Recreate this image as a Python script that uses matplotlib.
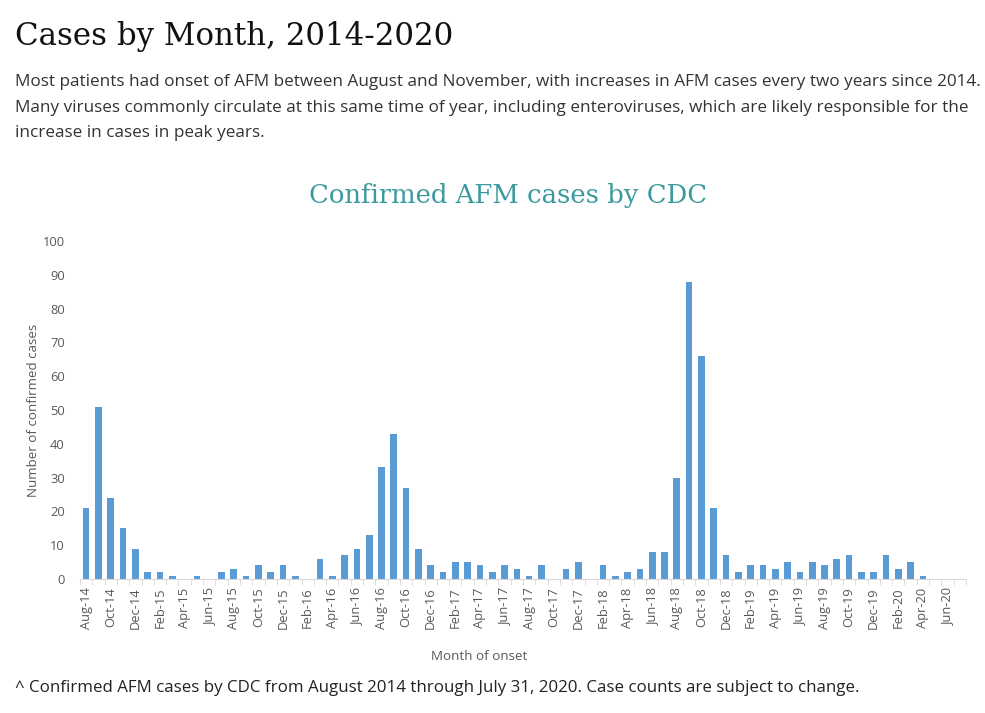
import numpy as np
import matplotlib.pyplot as plt

# Monthly confirmed AFM cases, Aug 2014 - Jul 2020
months = ["Jan", "Feb", "Mar", "Apr", "May", "Jun",
          "Jul", "Aug", "Sep", "Oct", "Nov", "Dec"]
start_month = 7  # Aug
start_year = 14
cases = [21, 51, 24, 15, 9,                      # Aug-Dec 2014
         2, 2, 1, 0, 1, 0, 2, 3, 1, 4, 2, 4,     # 2015
         1, 0, 6, 1, 7, 9, 13, 33, 43, 27, 9, 4, # 2016
         2, 5, 5, 4, 2, 4, 3, 1, 4, 0, 3, 5,     # 2017
         0, 4, 1, 2, 3, 8, 8, 30, 88, 66, 21, 7, # 2018
         2, 4, 4, 3, 5, 2, 5, 4, 6, 7, 2, 2,     # 2019
         7, 3, 5, 1, 0, 0, 0]                    # Jan-Jul 2020

labels = []
for i in range(len(cases)):
    m = (start_month + i) % 12
    y = start_year + (start_month + i) // 12
    labels.append(f"{months[m]}-{y}")

para_lines = [
    "Most patients had onset of AFM between August and November, with increases in AFM cases every two years since 2014.",
    "Many viruses commonly circulate at this same time of year, including enteroviruses, which are likely responsible for the",
    "increase in cases in peak years.",
]

bar_color = "#5b9bd5"
teal = "#3b9a9d"
text_color = "#333333"
tick_color = "#595959"

fig = plt.figure(figsize=(9.85, 7.13), dpi=100)
plt.rcParams['font.family'] = ['Open Sans', 'DejaVu Sans']

# header text
fig.text(15 / 985, 1 - 36 / 713, "Cases by Month, 2014-2020", family="DejaVu Serif",
         fontsize=22.2, color="#111111", va="center", ha="left")
for k, line in enumerate(para_lines):
    fig.text(15 / 985, 1 - (82 + 25.5 * k) / 713, line, fontsize=12.3,
             color=text_color, va="center", ha="left")
fig.text(508 / 985, 1 - 196 / 713, "Confirmed AFM cases by CDC", family="DejaVu Serif",
         fontsize=18.6, color=teal, va="center", ha="center")

ax = fig.add_axes([80 / 985, 1 - 579 / 713, 886 / 985, (579 - 241) / 713])
x = np.arange(len(cases))
ax.bar(x, cases, width=0.54, color=bar_color, zorder=2)

ax.set_xlim(-0.5, len(cases) - 0.5)
ax.set_ylim(0, 100)
ax.set_yticks(np.arange(0, 101, 10))
ax.tick_params(axis="y", length=0, labelsize=9.3, labelcolor=tick_color, pad=11)

ax.set_xticks(x[::2])
ax.set_xticklabels(labels[::2], rotation=90, fontsize=9.3, color=tick_color)
ax.set_xticks(np.arange(-0.5, len(cases), 1), minor=True)
ax.tick_params(axis="x", which="major", length=0, pad=6)
ax.tick_params(axis="x", which="minor", length=4, color="#d9d9d9")

for side in ["top", "right", "left"]:
    ax.spines[side].set_visible(False)
ax.spines["bottom"].set_color("#d9d9d9")

ax.set_ylabel("Number of confirmed cases", fontsize=9.6, color=tick_color)
ax.yaxis.set_label_coords(-40 / 886, 0.5)
ax.set_xlabel("Month of onset", fontsize=9.6, color=tick_color)
ax.xaxis.set_label_coords((479 - 80) / 886, -(657 - 579) / 338)
ax.xaxis.label.set_va("center")

fig.text(15 / 985, 1 - 688 / 713,
         "^ Confirmed AFM cases by CDC from August 2014 through July 31, 2020. Case counts are subject to change.",
         fontsize=12.2, color="#222222", va="center", ha="left")

fig.savefig("out.png", dpi=100)
